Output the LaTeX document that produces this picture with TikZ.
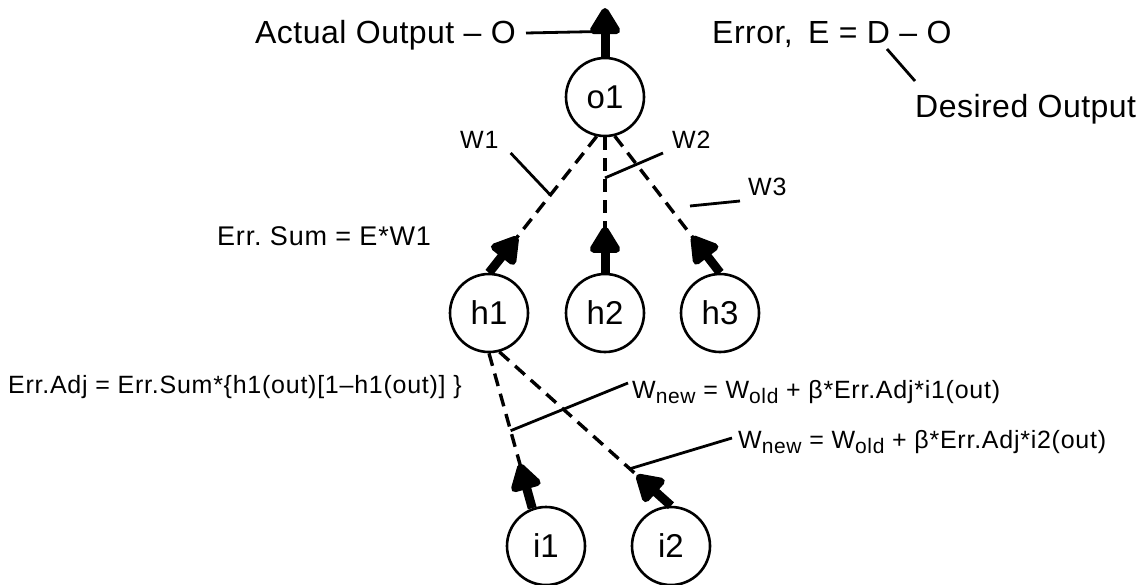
\documentclass[tikz,border=0pt]{standalone}
\usepackage{fontspec}
\setmainfont{Liberation Sans}
\newfontfamily\labfont[LetterSpace=1.5]{Liberation Sans}
\newfontfamily\smlfont[LetterSpace=3]{Liberation Sans}
\usetikzlibrary{arrows.meta,calc}
\newcommand\subtxt[1]{\raisebox{-5pt}{\fontsize{21}{21}\selectfont #1}}
\begin{document}
\begin{tikzpicture}[x=1pt,y=-1pt,
  neuron/.style={circle,draw,line width=2.6pt,minimum size=78pt,inner sep=0pt,font=\fontsize{33}{33}\selectfont},
  bigtext/.style={anchor=base west,inner sep=0pt,font=\labfont\fontsize{32}{36}\selectfont},
  smalltext/.style={anchor=base west,inner sep=0pt,font=\smlfont\fontsize{25}{28}\selectfont},
  wlabel/.style={anchor=base west,inner sep=0pt,font=\smlfont\fontsize{25}{28}\selectfont},
  wire/.style={line width=3.4pt,dash pattern=on 13pt off 8pt},
  lead/.style={line width=2.8pt},
  fire/.style={line width=9pt,-{Triangle[length=30pt,width=34pt,round]}}]
\fill[white] (0,0) rectangle (1139,584);
\useasboundingbox (0,0) rectangle (1139,584);

% neurons
\node[neuron] (o1) at (605,97) {o1};
\node[neuron] (h1) at (489,313) {h1};
\node[neuron] (h2) at (605,313) {h2};
\node[neuron] (h3) at (720,313) {h3};
\node[neuron] (i1) at (546,546) {i1};
\node[neuron] (i2) at (671,546) {i2};

% weighted (dashed) connections
\draw[wire] (o1.258) -- (h1.north);
\draw[wire] (o1.south) -- (h2.north);
\draw[wire] (o1.284) -- (h3.north);
\draw[wire] (h1.south) -- (i1.110);
\draw[wire] (h1.285) -- (i2.north);

% firing arrows
\coordinate (top) at (605,8);
\draw[fire] (o1.north) -- (top);
\draw[fire] (h1.north) -- ($(h1.north)!46pt!(o1.258)$);
\draw[fire] (h2.north) -- ($(h2.north)!46pt!(o1.south)$);
\draw[fire] (h3.north) -- ($(h3.north)!46pt!(o1.284)$);
\draw[fire] (i1.110) -- ($(i1.110)!46pt!(h1.south)$);
\draw[fire] (i2.north) -- ($(i2.north)!46pt!(h1.285)$);

% texts
\node[bigtext] (ao) at (255,43) {Actual Output – O};
\node[bigtext] (err) at (712,43) {Error,\hspace{6pt} E = D – O};
\node[bigtext] (des) at (915,117) {Desired Output};
\node[wlabel] (w1) at (460,148) {W1};
\node[wlabel] (w2) at (672,148) {W2};
\node[wlabel] (w3) at (748,195) {W3};
\node[smalltext,font=\smlfont\fontsize{27}{30}\selectfont] (es) at (217,245) {Err.\ Sum = E*W1};
\node[smalltext] (ea) at (8,393) {Err.Adj = Err.Sum*\{h1(out)[1–h1(out)] \}};
\node[smalltext] (wn1) at (632,398) {W\subtxt{new} = W\subtxt{old} + β*Err.Adj*i1(out)};
\node[smalltext] (wn2) at (738,448) {W\subtxt{new} = W\subtxt{old} + β*Err.Adj*i2(out)};

% leaders
\coordinate (ojoin) at ($(o1.north)!0.52!(top)$);
\draw[lead] ($(ao.base east)+(10,-10)$) -- (ojoin);
\coordinate (dA) at ($(err.base west)+(175,6)$);
\coordinate (dB) at ($(des.base west)+(0,-36)$);
\draw[lead] (dA) -- (dB);
\draw[lead] ($(w1.base east)+(12,5)$) -- ($(o1.258)!0.43!(h1.north)$);
\draw[lead] ($(w2.base west)+(-9,5)$) -- ($(o1.south)!0.3!(h2.north)$);
\coordinate (w3a) at ($(w3.base west)+(-8,6)$);
\draw[lead] (w3a) -- ++(-50,5);
\draw[lead] ($(h1.south)!0.5!(i1.110)$) -- ($(wn1.base west)+(-4,-15)$);
\draw[lead] ($(h1.285)!0.76!(i2.north)$) -- ($(wn2.base west)+(-6,-10)$);
\end{tikzpicture}
\end{document}
